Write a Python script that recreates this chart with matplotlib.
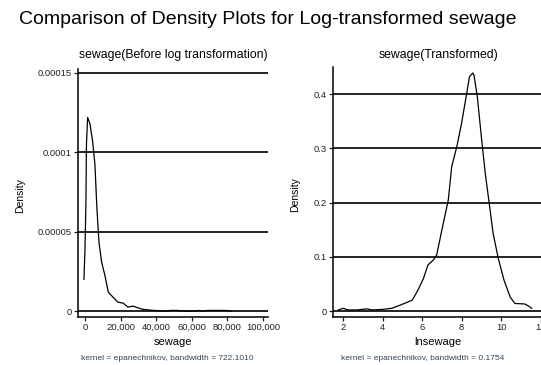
import matplotlib.pyplot as plt

plt.rcParams['font.family'] = ['Liberation Sans', 'DejaVu Sans']

# raw sewage density
sew_x = [-560, 0, 560, 840, 1500, 2800, 4300, 5600, 6700, 7900, 9400, 11200,
         13100, 15700, 18500, 21400, 24200, 27000, 32000, 36500, 40000, 45000,
         48000, 52000, 55000, 62000, 64000, 66000, 69000, 72000, 74000, 78000,
         80000, 82000]
sew_y = [2.0e-5, 3.8e-5, 6.9e-5, 1.05e-4, 1.22e-4, 1.18e-4, 1.07e-4, 9.25e-5,
         6.5e-5, 4.3e-5, 3.06e-5, 2.25e-5, 1.19e-5, 8.8e-6, 5.6e-6, 5.0e-6,
         2.5e-6, 3.1e-6, 1.2e-6, 6e-7, 3e-7, 0, 4e-7, 4e-7, 0, 0, 4e-7, 0,
         4e-7, 4e-7, 4e-7, 4e-7, 3e-7, 0]

# log-transformed density
ln_x = [1.76, 2.0, 2.25, 2.7, 3.2, 3.5, 4.0, 4.47, 4.9, 5.5, 5.8, 6.07, 6.3,
        6.57, 6.74, 7.0, 7.33, 7.5, 7.76, 8.0, 8.26, 8.4, 8.57, 8.63, 8.8,
        9.02, 9.2, 9.4, 9.6, 9.86, 10.15, 10.46, 10.7, 11.2, 11.4, 11.55]
ln_y = [0.002, 0.005, 0.002, 0.002, 0.004, 0.002, 0.003, 0.005, 0.011, 0.02,
        0.039, 0.06, 0.085, 0.094, 0.103, 0.149, 0.205, 0.266, 0.303, 0.346,
        0.401, 0.432, 0.439, 0.435, 0.395, 0.315, 0.254, 0.199, 0.143, 0.097,
        0.057, 0.026, 0.014, 0.013, 0.009, 0.005]

left_yticks = [0, 0.00005, 0.0001, 0.00015]
left_ylabels = ['0', '0.00005', '0.0001', '0.00015']
left_xticks = [0, 20000, 40000, 60000, 80000, 100000]
left_xlabels = ['0', '20,000', '40,000', '60,000', '80,000', '100,000']
right_yticks = [0, 0.1, 0.2, 0.3, 0.4]
right_ylabels = ['0', '0.1', '0.2', '0.3', '0.4']
right_xticks = [2, 4, 6, 8, 10, 12]

W, H = 541, 365
fig = plt.figure(figsize=(W / 100, H / 100), dpi=100)
fig.patch.set_facecolor('white')


def px_axes(x0, x1, ytop, ybot):
    return fig.add_axes([x0 / W, 1 - ybot / H, (x1 - x0) / W, (ybot - ytop) / H])


def style(ax, yticks, ylabels, xticks, xlabels):
    for s in ['top', 'right']:
        ax.spines[s].set_visible(False)
    for s in ['left', 'bottom']:
        ax.spines[s].set_linewidth(1.1)
    ax.set_yticks(yticks)
    ax.set_yticklabels(ylabels)
    ax.set_xticks(xticks)
    ax.set_xticklabels(xlabels)
    ax.tick_params(labelsize=6.8, length=3, width=0.9, pad=1.5, colors='#222222')
    for y in yticks:
        ax.axhline(y, color='black', lw=1.2, zorder=1)


# left panel
ax1 = px_axes(78, 268, 69, 317)
ax1.plot(sew_x, sew_y, color='black', lw=0.9, zorder=3)
ax1.set_xlim(-3900, 102800)
ax1.set_ylim(-3.75e-6, 1.525e-4)
style(ax1, left_yticks, left_ylabels, left_xticks, left_xlabels)
ax1.set_ylabel('Density', fontsize=7.5)
ax1.yaxis.set_label_coords(-0.28, 0.49)
ax1.set_xlabel('sewage', fontsize=8)
ax1.xaxis.set_label_coords(0.5, -0.08)

# right panel
ax2 = px_axes(333, 551, 67, 317)
ax2.plot(ln_x, ln_y, color='black', lw=0.9, zorder=3)
ax2.set_xlim(1.49, 12.53)
ax2.set_ylim(-0.011, 0.45)
style(ax2, right_yticks, right_ylabels, right_xticks, [str(t) for t in right_xticks])
ax2.set_ylabel('Density', fontsize=7.5)
ax2.yaxis.set_label_coords(-0.15, 0.49)
ax2.set_xlabel('lnsewage', fontsize=8)
ax2.xaxis.set_label_coords(0.48, -0.08)

fig.text(173 / W, 1 - 55 / H, 'sewage(Before log transformation)', fontsize=8.8,
         ha='center', va='center')
fig.text(439 / W, 1 - 55 / H, 'sewage(Transformed)', fontsize=8.8,
         ha='center', va='center')

fig.text(167 / W, 1 - 358 / H, 'kernel = epanechnikov, bandwidth = 722.1010',
         fontsize=6, ha='center', va='center', color='#334455')
fig.text(423 / W, 1 - 358 / H, 'kernel = epanechnikov, bandwidth = 0.1754',
         fontsize=6, ha='center', va='center', color='#334455')

fig.text(268 / W, 1 - 20 / H, 'Comparison of Density Plots for Log-transformed sewage',
         fontsize=14, ha='center', va='center')

fig.savefig('out.png', dpi=100)
